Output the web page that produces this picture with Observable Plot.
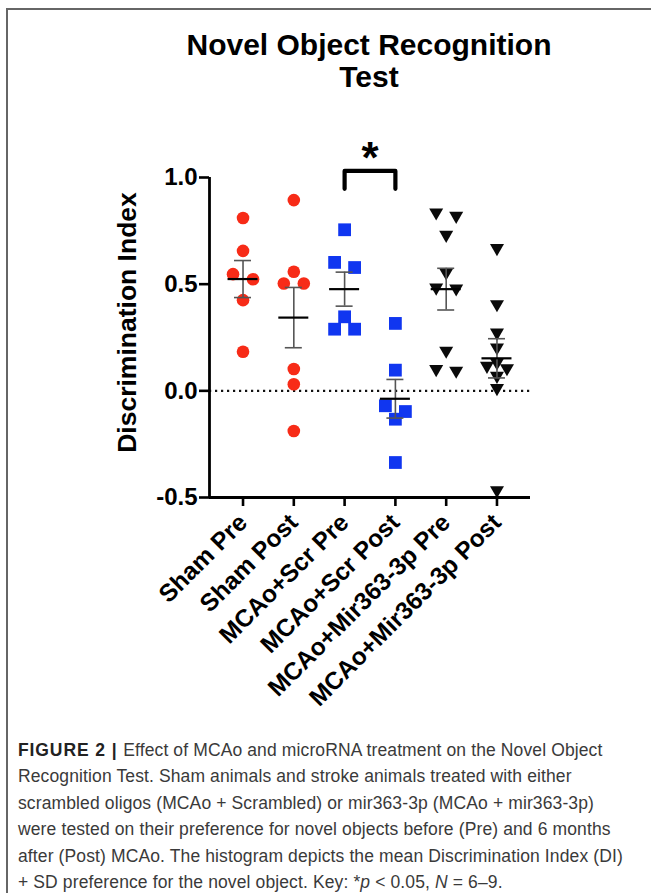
<!DOCTYPE html>
<html><head><meta charset="utf-8">
<script src="https://cdn.jsdelivr.net/npm/d3@7"></script>
<script src="https://cdn.jsdelivr.net/npm/@observablehq/plot@0.6"></script>
<style>
body{margin:0;background:#fff;}
#fig{position:relative;width:651px;height:893px;overflow:hidden;font-family:"Liberation Sans",Arial,sans-serif;}
#border{position:absolute;left:6px;top:8px;right:-10px;bottom:-10px;border-top:2px solid #666;border-left:2px solid #666;}
#title{position:absolute;left:169px;width:400px;top:29px;text-align:center;font-weight:bold;font-size:30px;line-height:32px;color:#000;}
#chart{position:absolute;left:0;top:120px;}
#caption{position:absolute;left:18px;top:737px;font-size:17.5px;letter-spacing:0.12px;line-height:26.4px;color:#3a3a3a;white-space:nowrap;}
#caption b{color:#222;letter-spacing:0.9px;}
</style></head><body>
<div id="fig">
<div id="border"></div>
<div id="title">Novel Object Recognition<br>Test</div>
<div id="chart"></div>
<div id="caption">
<div><b>FIGURE 2 | </b>Effect of MCAo and microRNA treatment on the Novel Object</div>
<div>Recognition Test. Sham animals and stroke animals treated with either</div>
<div>scrambled oligos (MCAo + Scrambled) or mir363-3p (MCAo + mir363-3p)</div>
<div>were tested on their preference for novel objects before (Pre) and 6 months</div>
<div>after (Post) MCAo. The histogram depicts the mean Discrimination Index (DI)</div>
<div>+ SD preference for the novel object. Key: *<i>p</i> &lt; 0.05, <i>N</i> = 6–9.</div>
</div>
</div>
<script>
// ---- data ----
const categories = ["Sham Pre","Sham Post","MCAo+Scr Pre","MCAo+Scr Post","MCAo+Mir363-3p Pre","MCAo+Mir363-3p Post"];
const shamPre  = [0.81, 0.656, 0.547, 0.523, 0.425, 0.183];
const shamPost = [0.894, 0.558, 0.503, 0.503, 0.102, 0.031, -0.188];
const scrPre   = [0.755, 0.602, 0.578, 0.347, 0.289, 0.289];
const scrPost  = [0.316, 0.097, -0.070, -0.097, -0.133, -0.336];
const mirPre   = [0.836, 0.820, 0.731, 0.555, 0.484, 0.480, 0.188, 0.102, 0.094];
const mirPost  = [0.669, 0.406, 0.273, 0.203, 0.133, 0.117, 0.106, 0.070, 0.013, -0.466];
const yTicks = [-0.5, 0.0, 0.5, 1.0];
const yLabel = "Discrimination Index";
const sigFrom = 2, sigTo = 3, sigTop = 1.031, sigBottom = 0.947, sigText = "*";

// ---- styles ----
const groupSymbol = ["circle","circle","square","square","triangle","triangle"];
const groupColor  = ["#f72b17","#f72b17","#1036f0","#1036f0","#0a0a0a","#0a0a0a"];

const groups = [shamPre, shamPost, scrPre, scrPost, mirPre, mirPost];
const W = 651, H = 600, mL = 209, mR = 121, mT = 57, mB = 223;
const xDomain = [-0.66, 5.66];
const pxPerUnit = (W - mL - mR) / (xDomain[1] - xDomain[0]);
const yPerPx = 1.5 / (H - mT - mB);

// deterministic row spreading (like a scatter dot plot)
function spread(vals) {
  const tol = 10.7 * yPerPx, Wd = 10;
  const sorted = vals.map((v, i) => ({v, i})).sort((a, b) => b.v - a.v);
  const rows = [];
  for (const p of sorted) {
    const r = rows[rows.length - 1];
    if (r && r[0].v - p.v < tol) r.push(p); else rows.push([p]);
  }
  const out = [];
  for (const r of rows) {
    const n = r.length;
    let offs;
    if (n === 1) offs = [0];
    else if (n === 2) offs = [-Wd, Wd];
    else if (n === 3) offs = [0, -Wd, Wd];
    else offs = r.map((_, k) => -Wd + 2 * Wd * k / (n - 1));
    r.forEach((p, k) => out.push({v: p.v, off: offs[k]}));
  }
  return out;
}

const points = [];
groups.forEach((vals, g) => {
  for (const p of spread(vals)) points.push({g, v: p.v, x: g + p.off / pxPerUnit, sym: groupSymbol[g], color: groupColor[g]});
});
const stats = groups.map((vals, g) => {
  const m = d3.mean(vals), se = d3.deviation(vals) / Math.sqrt(vals.length);
  return {g, mean: m, lo: m - se, hi: m + se};
});
const meanHalf = 15 / pxPerUnit, capHalf = 8.5 / pxPerUnit;
const bracket = [
  {x: sigFrom, y: sigBottom}, {x: sigFrom, y: sigTop},
  {x: sigTo, y: sigTop}, {x: sigTo, y: sigBottom}
];

const plot = Plot.plot({
  width: W, height: H,
  marginLeft: mL, marginRight: mR, marginTop: mT, marginBottom: mB,
  x: {type: "linear", domain: xDomain},
  y: {domain: [yTicks[0], yTicks[yTicks.length - 1]]},
  style: {fontFamily: "'Liberation Sans', Arial, sans-serif", color: "#000", background: "transparent", overflow: "visible"},
  marks: [
    Plot.ruleY([0], {stroke: "#111", strokeWidth: 2.2, strokeDasharray: "2.2,3.8"}),
    Plot.dot(points.filter(d => d.sym === "circle"), {x: "x", y: "v", symbol: "circle", r: 6.3, fill: "color"}),
    Plot.dot(points.filter(d => d.sym === "square"), {x: "x", y: "v", symbol: "square", r: 7.2, fill: "color"}),
    Plot.dot(points.filter(d => d.sym === "triangle"), {x: "x", y: "v", symbol: "triangle", r: 5.2, rotate: 180, fill: "color"}),
    Plot.ruleX(stats, {x: "g", y1: "lo", y2: "hi", stroke: "#555", strokeWidth: 1.6}),
    Plot.ruleY(stats, {y: "lo", x1: d => d.g - capHalf, x2: d => d.g + capHalf, stroke: "#555", strokeWidth: 1.6}),
    Plot.ruleY(stats, {y: "hi", x1: d => d.g - capHalf, x2: d => d.g + capHalf, stroke: "#555", strokeWidth: 1.6}),
    Plot.ruleY(stats, {y: "mean", x1: d => d.g - meanHalf, x2: d => d.g + meanHalf, stroke: "#000", strokeWidth: 2.2}),
    Plot.ruleX([xDomain[0]], {stroke: "#000", strokeWidth: 2.8}),
    Plot.ruleY([yTicks[0]], {stroke: "#000", strokeWidth: 2.8}),
    Plot.axisY({ticks: yTicks, tickFormat: d => d.toFixed(1), fontSize: 24, fontWeight: "bold", tickSize: 10, tickPadding: 2, strokeWidth: 2.6, label: null}),
    Plot.axisX({ticks: d3.range(categories.length), tickFormat: i => categories[i], tickRotate: -45, fontSize: 24.5, fontWeight: "bold", tickSize: 9, tickPadding: 12, strokeWidth: 2.6, label: null}),
    Plot.text([yLabel], {text: d => d, frameAnchor: "left", textAnchor: "middle", rotate: -90, dx: -82, dy: -15, fontSize: 26.5, fontWeight: "bold"}),
    Plot.line(bracket, {x: "x", y: "y", stroke: "#000", strokeWidth: 4.2}),
    Plot.text([sigText], {x: (sigFrom + sigTo) / 2, y: sigTop, text: d => d, fontSize: 44, fontWeight: "bold", dy: -12})
  ]
});
document.getElementById("chart").appendChild(plot);
</script>
</body></html>
